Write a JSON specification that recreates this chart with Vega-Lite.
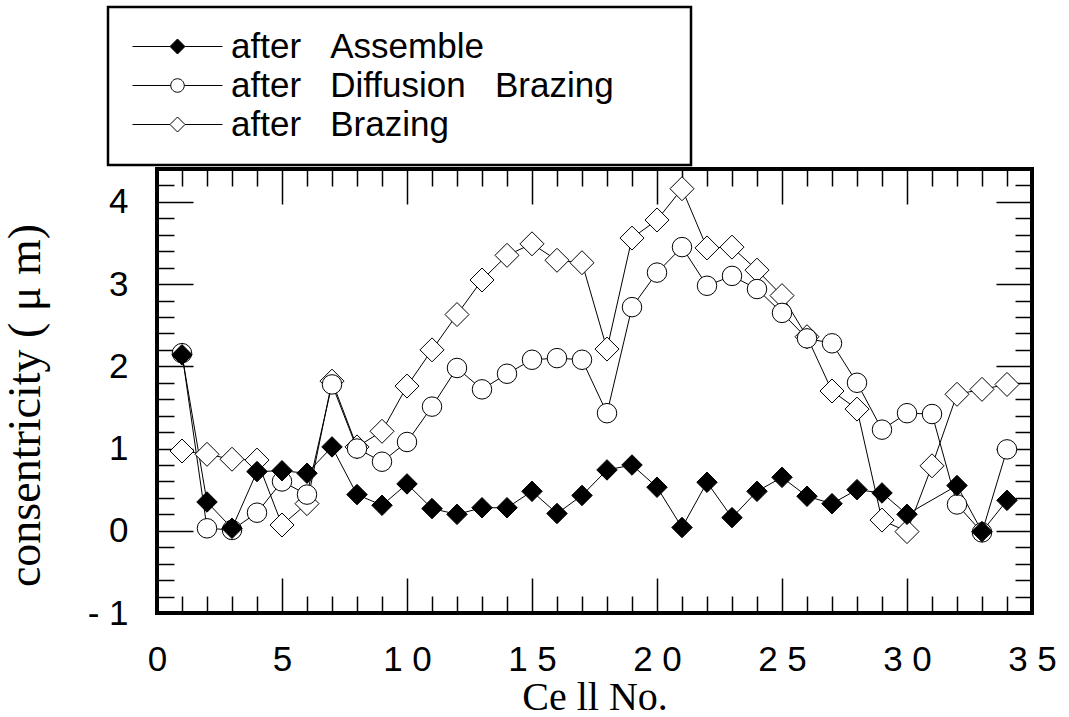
{
  "$schema": "https://vega.github.io/schema/vega-lite/v6.json",
  "width": 875,
  "height": 444,
  "autosize": "none",
  "padding": {"left": 157, "top": 169, "right": 37, "bottom": 104},
  "background": "white",
  "config": {
    "view": {"stroke": "black", "strokeWidth": 4},
    "legend": {"strokeWidth": 2.5},
    "axis": {
      "domain": false,
      "grid": false,
      "labelFlush": false,
      "tickColor": "black",
      "tickWidth": 1.5,
      "labelFont": "Liberation Sans",
      "labelFontSize": 35,
      "labelColor": "black",
      "titleFont": "Liberation Serif",
      "titleFontSize": 38,
      "titleFontWeight": "normal",
      "titleColor": "black"
    }
  },
  "data": {
    "values": [
      {"c": 1, "s": "B", "v": 0.97}, {"c": 2, "s": "B", "v": 0.93}, {"c": 3, "s": "B", "v": 0.87}, {"c": 4, "s": "B", "v": 0.86},
      {"c": 5, "s": "B", "v": 0.07}, {"c": 6, "s": "B", "v": 0.33}, {"c": 7, "s": "B", "v": 1.82}, {"c": 8, "s": "B", "v": 1.02},
      {"c": 9, "s": "B", "v": 1.21}, {"c": 10, "s": "B", "v": 1.76}, {"c": 11, "s": "B", "v": 2.2}, {"c": 12, "s": "B", "v": 2.63},
      {"c": 13, "s": "B", "v": 3.05}, {"c": 14, "s": "B", "v": 3.35}, {"c": 15, "s": "B", "v": 3.49}, {"c": 16, "s": "B", "v": 3.29},
      {"c": 17, "s": "B", "v": 3.26}, {"c": 18, "s": "B", "v": 2.21}, {"c": 19, "s": "B", "v": 3.56}, {"c": 20, "s": "B", "v": 3.78},
      {"c": 21, "s": "B", "v": 4.16}, {"c": 22, "s": "B", "v": 3.44}, {"c": 23, "s": "B", "v": 3.45}, {"c": 24, "s": "B", "v": 3.17},
      {"c": 25, "s": "B", "v": 2.86}, {"c": 26, "s": "B", "v": 2.36}, {"c": 27, "s": "B", "v": 1.7}, {"c": 28, "s": "B", "v": 1.48},
      {"c": 29, "s": "B", "v": 0.13}, {"c": 30, "s": "B", "v": -0.01}, {"c": 31, "s": "B", "v": 0.79}, {"c": 32, "s": "B", "v": 1.66},
      {"c": 33, "s": "B", "v": 1.72}, {"c": 34, "s": "B", "v": 1.78},
      {"c": 1, "s": "D", "v": 2.16}, {"c": 2, "s": "D", "v": 0.03}, {"c": 3, "s": "D", "v": 0.01}, {"c": 4, "s": "D", "v": 0.22},
      {"c": 5, "s": "D", "v": 0.6}, {"c": 6, "s": "D", "v": 0.44}, {"c": 7, "s": "D", "v": 1.78}, {"c": 8, "s": "D", "v": 1.0},
      {"c": 9, "s": "D", "v": 0.84}, {"c": 10, "s": "D", "v": 1.08}, {"c": 11, "s": "D", "v": 1.51}, {"c": 12, "s": "D", "v": 1.98},
      {"c": 13, "s": "D", "v": 1.72}, {"c": 14, "s": "D", "v": 1.91}, {"c": 15, "s": "D", "v": 2.08}, {"c": 16, "s": "D", "v": 2.1},
      {"c": 17, "s": "D", "v": 2.08}, {"c": 18, "s": "D", "v": 1.43}, {"c": 19, "s": "D", "v": 2.72}, {"c": 20, "s": "D", "v": 3.14},
      {"c": 21, "s": "D", "v": 3.45}, {"c": 22, "s": "D", "v": 2.98}, {"c": 23, "s": "D", "v": 3.1}, {"c": 24, "s": "D", "v": 2.94},
      {"c": 25, "s": "D", "v": 2.65}, {"c": 26, "s": "D", "v": 2.34}, {"c": 27, "s": "D", "v": 2.28}, {"c": 28, "s": "D", "v": 1.8},
      {"c": 29, "s": "D", "v": 1.23}, {"c": 30, "s": "D", "v": 1.43}, {"c": 31, "s": "D", "v": 1.42}, {"c": 32, "s": "D", "v": 0.32},
      {"c": 33, "s": "D", "v": -0.02}, {"c": 34, "s": "D", "v": 0.99},
      {"c": 1, "s": "A", "v": 2.14}, {"c": 2, "s": "A", "v": 0.35}, {"c": 3, "s": "A", "v": 0.03}, {"c": 4, "s": "A", "v": 0.72},
      {"c": 5, "s": "A", "v": 0.73}, {"c": 6, "s": "A", "v": 0.7}, {"c": 7, "s": "A", "v": 1.02}, {"c": 8, "s": "A", "v": 0.44},
      {"c": 9, "s": "A", "v": 0.31}, {"c": 10, "s": "A", "v": 0.57}, {"c": 11, "s": "A", "v": 0.27}, {"c": 12, "s": "A", "v": 0.2},
      {"c": 13, "s": "A", "v": 0.28}, {"c": 14, "s": "A", "v": 0.28}, {"c": 15, "s": "A", "v": 0.48}, {"c": 16, "s": "A", "v": 0.21},
      {"c": 17, "s": "A", "v": 0.43}, {"c": 18, "s": "A", "v": 0.74}, {"c": 19, "s": "A", "v": 0.8}, {"c": 20, "s": "A", "v": 0.53},
      {"c": 21, "s": "A", "v": 0.04}, {"c": 22, "s": "A", "v": 0.59}, {"c": 23, "s": "A", "v": 0.16}, {"c": 24, "s": "A", "v": 0.48},
      {"c": 25, "s": "A", "v": 0.65}, {"c": 26, "s": "A", "v": 0.42}, {"c": 27, "s": "A", "v": 0.33}, {"c": 28, "s": "A", "v": 0.5},
      {"c": 29, "s": "A", "v": 0.46}, {"c": 30, "s": "A", "v": 0.2}, {"c": 32, "s": "A", "v": 0.55}, {"c": 33, "s": "A", "v": -0.01},
      {"c": 34, "s": "A", "v": 0.37}
    ]
  },
  "resolve": {"axis": {"x": "independent", "y": "independent"}, "scale": {"shape": "independent", "fill": "independent", "stroke": "independent"}},
  "layer": [
    {
      "mark": {"type": "line", "color": "black", "strokeWidth": 1},
      "encoding": {
        "x": {"field": "c", "type": "quantitative", "scale": {"domain": [0, 35], "nice": false, "zero": false},
          "axis": {"orient": "bottom", "values": [0, 5, 10, 15, 20, 25, 30, 35], "ticks": false, "labelPadding": 29,
            "labelExpr": "datum.value >= 10 ? substring(datum.label, 0, 1) + ' ' + substring(datum.label, 1) : datum.label",
            "title": "Ce ll No.", "titlePadding": 0, "titleFontSize": 40}},
        "y": {"field": "v", "type": "quantitative", "scale": {"domain": [-1, 4.4], "nice": false, "zero": false},
          "axis": {"orient": "left", "values": [-1, 0, 1, 2, 3, 4], "ticks": false, "labelPadding": 29,
            "labelExpr": "datum.value < 0 ? '- ' + format(abs(datum.value), 'd') : datum.label",
            "title": "consentricity  ( μ  m)", "titlePadding": 38, "titleFontSize": 46, "titleY": 236, "titleAlign": "center"}},
        "detail": {"field": "s", "type": "nominal"}
      }
    },
    {
      "mark": {"type": "point", "filled": true, "stroke": "black", "strokeWidth": 1, "opacity": 1},
      "encoding": {
        "x": {"field": "c", "type": "quantitative", "scale": {"domain": [0, 35], "nice": false, "zero": false},
          "axis": {"orient": "bottom", "values": [0, 5, 10, 15, 20, 25, 30, 35], "tickSize": -35, "labels": false, "title": null}},
        "y": {"field": "v", "type": "quantitative", "scale": {"domain": [-1, 4.4], "nice": false, "zero": false},
          "axis": {"orient": "left", "values": [-1, 0, 1, 2, 3, 4], "tickSize": -36, "labels": false, "title": null}},
        "shape": {"field": "s", "type": "nominal",
          "scale": {"domain": ["A", "D", "B"], "range": ["diamond", "circle", "diamond"]}, "legend": null},
        "fill": {"condition": {"test": "datum.s == 'A'", "value": "black"}, "value": "white"},
        "size": {"condition": [{"test": "datum.s == 'A'", "value": 420}, {"test": "datum.s == 'D'", "value": 380}], "value": 576}
      }
    },
    {
      "mark": {"type": "point", "filled": true, "strokeWidth": 1, "opacity": 0},
      "encoding": {
        "x": {"field": "c", "type": "quantitative", "scale": {"domain": [0, 35], "nice": false, "zero": false},
          "axis": {"orient": "bottom", "values": [1,2,3,4,6,7,8,9,11,12,13,14,16,17,18,19,21,22,23,24,26,27,28,29,31,32,33,34], "tickSize": -17, "labels": false, "title": null}},
        "y": {"field": "v", "type": "quantitative", "scale": {"domain": [-1, 4.4], "nice": false, "zero": false},
          "axis": {"orient": "left", "values": [-0.8,-0.6,-0.4,-0.2,0.2,0.4,0.6,0.8,1.2,1.4,1.6,1.8,2.2,2.4,2.6,2.8,3.2,3.4,3.6,3.8,4.2], "tickSize": -17, "labels": false, "title": null}},
        "stroke": {"field": "s", "type": "nominal",
          "scale": {"domain": ["A", "D", "B"], "range": ["black", "black", "black"]},
          "legend": {
            "orient": "none", "legendX": -49, "legendY": -162, "title": null,
            "padding": 22, "strokeColor": "black", "fillColor": "white",
            "symbolSize": 225, "symbolOffset": 30, "labelOffset": 36, "rowPadding": 3, "symbolOpacity": 1, "symbolStrokeWidth": 1,
            "labelFont": "Liberation Sans", "labelFontSize": 35, "labelColor": "black", "labelLimit": 800,
            "labelExpr": "datum.value == 'A' ? 'after\u00a0\u00a0\u00a0Assemble' : datum.value == 'D' ? 'after\u00a0\u00a0\u00a0Diffusion\u00a0\u00a0\u00a0Brazing\u00a0\u00a0\u00a0\u2800' : 'after\u00a0\u00a0\u00a0Brazing'"
          }},
        "shape": {"field": "s", "type": "nominal",
          "scale": {"domain": ["A", "D", "B"], "range": ["M-6,0L-1,0M1,0L6,0M0,-1L1,0L0,1L-1,0Z", "M-6,0L-0.9,0M0.9,0L6,0M0.9,0A0.9,0.9,0,1,1,-0.9,0A0.9,0.9,0,1,1,0.9,0Z", "M-6,0L-1,0M1,0L6,0M0,-1L1,0L0,1L-1,0Z"]},
          "legend": {
            "orient": "none", "legendX": -49, "legendY": -162, "title": null,
            "padding": 22, "strokeColor": "black", "fillColor": "white",
            "symbolSize": 225, "symbolOffset": 30, "labelOffset": 36, "rowPadding": 3, "symbolOpacity": 1, "symbolStrokeWidth": 1,
            "labelFont": "Liberation Sans", "labelFontSize": 35, "labelColor": "black", "labelLimit": 800,
            "labelExpr": "datum.value == 'A' ? 'after\u00a0\u00a0\u00a0Assemble' : datum.value == 'D' ? 'after\u00a0\u00a0\u00a0Diffusion\u00a0\u00a0\u00a0Brazing\u00a0\u00a0\u00a0\u2800' : 'after\u00a0\u00a0\u00a0Brazing'"
          }},
        "fill": {"field": "s", "type": "nominal",
          "scale": {"domain": ["A", "D", "B"], "range": ["black", "white", "white"]},
          "legend": {
            "orient": "none", "legendX": -49, "legendY": -162, "title": null,
            "padding": 22, "strokeColor": "black", "fillColor": "white",
            "symbolSize": 225, "symbolOffset": 30, "labelOffset": 36, "rowPadding": 3, "symbolOpacity": 1, "symbolStrokeWidth": 1,
            "labelFont": "Liberation Sans", "labelFontSize": 35, "labelColor": "black", "labelLimit": 800,
            "labelExpr": "datum.value == 'A' ? 'after\u00a0\u00a0\u00a0Assemble' : datum.value == 'D' ? 'after\u00a0\u00a0\u00a0Diffusion\u00a0\u00a0\u00a0Brazing\u00a0\u00a0\u00a0\u2800' : 'after\u00a0\u00a0\u00a0Brazing'"
          }}
      }
    },
    {
      "mark": {"type": "point", "opacity": 0},
      "encoding": {
        "x": {"field": "c", "type": "quantitative", "scale": {"domain": [0, 35], "nice": false, "zero": false},
          "axis": {"orient": "top", "values": [0, 5, 10, 15, 20, 25, 30, 35], "tickSize": -35, "labels": false, "title": null}},
        "y": {"field": "v", "type": "quantitative", "scale": {"domain": [-1, 4.4], "nice": false, "zero": false},
          "axis": {"orient": "right", "values": [-1, 0, 1, 2, 3, 4], "tickSize": -36, "labels": false, "title": null}}
      }
    },
    {
      "mark": {"type": "point", "opacity": 0},
      "encoding": {
        "x": {"field": "c", "type": "quantitative", "scale": {"domain": [0, 35], "nice": false, "zero": false},
          "axis": {"orient": "top", "values": [1,2,3,4,6,7,8,9,11,12,13,14,16,17,18,19,21,22,23,24,26,27,28,29,31,32,33,34], "tickSize": -17, "labels": false, "title": null}},
        "y": {"field": "v", "type": "quantitative", "scale": {"domain": [-1, 4.4], "nice": false, "zero": false},
          "axis": {"orient": "right", "values": [-0.8,-0.6,-0.4,-0.2,0.2,0.4,0.6,0.8,1.2,1.4,1.6,1.8,2.2,2.4,2.6,2.8,3.2,3.4,3.6,3.8,4.2], "tickSize": -17, "labels": false, "title": null}}
      }
    }
  ]
}
